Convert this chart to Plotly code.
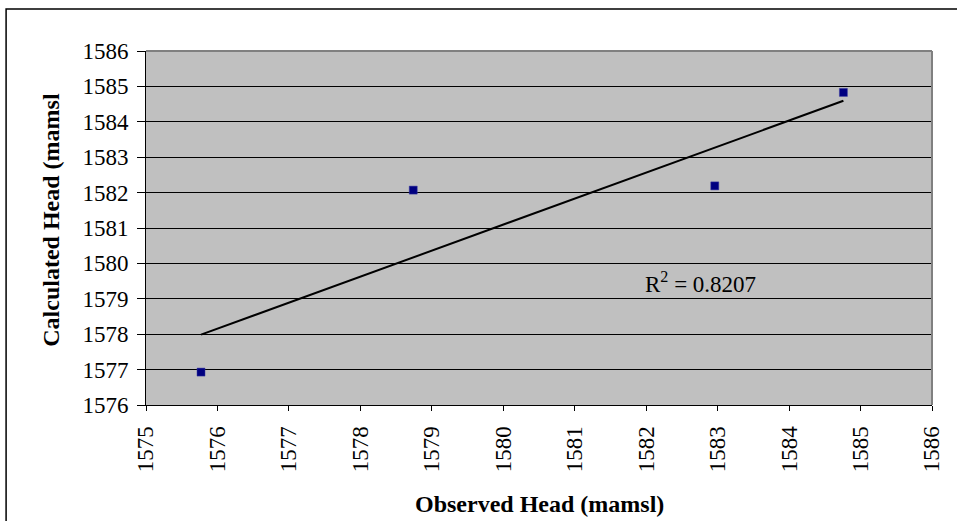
import numpy as np
import plotly.graph_objects as go

# observed vs calculated heads (mamsl)
observed = [1575.77, 1578.74, 1582.96, 1584.76]
calculated = [1576.93, 1582.07, 1582.19, 1584.83]
r2_label = "R<sup>2</sup> = 0.8207"

x_ticks = list(range(1575, 1587))
y_ticks = list(range(1576, 1587))

# linear trendline like excel
slope, icpt = np.polyfit(observed, calculated, 1)
tx = [min(observed), max(observed)]
ty = [slope * v + icpt for v in tx]

font = "Liberation Serif"

fig = go.Figure()
fig.add_trace(go.Scatter(x=tx, y=ty, mode="lines",
                         line=dict(color="black", width=2), hoverinfo="skip"))
fig.add_trace(go.Scatter(x=observed, y=calculated, mode="markers",
                         marker=dict(symbol="square", size=8, color="#000080",
                                     line=dict(color="#3a3aa0", width=0.5))))

fig.add_annotation(x=1581.96, y=1579.45, xref="x", yref="y", text=r2_label,
                   showarrow=False, xanchor="left", yanchor="middle",
                   font=dict(family=font, size=23, color="black"))

# axis titles as annotations so they sit where excel put them
fig.add_annotation(x=-0.121, y=0.523, xref="paper", yref="paper",
                   text="<b>Calculated Head (mamsl</b>", textangle=-90,
                   showarrow=False, xanchor="center", yanchor="middle",
                   font=dict(family=font, size=24, color="black"))
fig.add_annotation(x=0.5, y=-0.28, xref="paper", yref="paper",
                   text="<b>Observed Head (mamsl)</b>",
                   showarrow=False, xanchor="center", yanchor="middle",
                   font=dict(family=font, size=24, color="black"))

# outer chart frame (runs off right and bottom of the picture)
fig.add_shape(type="rect", xref="paper", yref="paper",
              x0=-0.178, x1=1.05, y0=-0.4, y1=1.1186,
              line=dict(color="black", width=1.5), layer="below")

fig.update_xaxes(range=[1575, 1586], tickvals=x_ticks, tickangle=-90,
                 showgrid=False, zeroline=False, showline=True,
                 linecolor="black", linewidth=1, ticks="outside", ticklen=5,
                 tickcolor="black", ticklabelstandoff=6,
                 tickfont=dict(family=font, size=23, color="black"))
fig.update_yaxes(range=[1576, 1586], tickvals=y_ticks,
                 showgrid=True, gridcolor="black", gridwidth=1,
                 zeroline=False, showline=True, linecolor="black", linewidth=1,
                 ticks="outside", ticklen=8, tickcolor="black",
                 ticklabelstandoff=4,
                 tickfont=dict(family=font, size=23, color="black"))

# gray border on top and right of the plot area
fig.add_shape(type="line", xref="paper", yref="paper", x0=0, x1=1, y0=1, y1=1,
              line=dict(color="#808080", width=2))
fig.add_shape(type="line", xref="paper", yref="paper", x0=1, x1=1, y0=0, y1=1,
              line=dict(color="#808080", width=2))

fig.update_layout(width=957, height=521, showlegend=False,
                  paper_bgcolor="white", plot_bgcolor="#C0C0C0",
                  margin=dict(l=146, r=25, t=51, b=116))

fig.write_html("out.html", config={"displayModeBar": False},
               post_script="document.body.style.margin='0';")
